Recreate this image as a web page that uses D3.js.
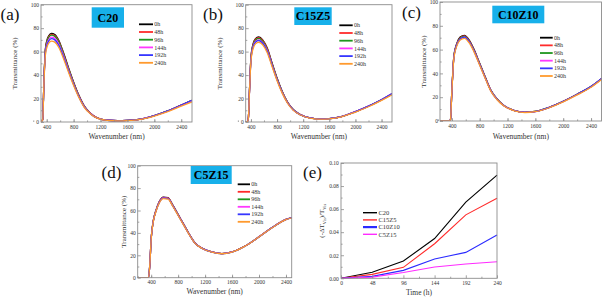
<!DOCTYPE html>
<html>
<head>
<meta charset="utf-8">
<script src="https://cdn.jsdelivr.net/npm/d3@7"></script>
<style>
  body { margin: 0; background: #fff; }
  svg { display: block; font-family: "Liberation Serif", "Times New Roman", serif; }
</style>
</head>
<body>
<div id="chart"></div>
<script>
// ---- data ----
const WAVELENGTH = [200, 300, 340, 360, 380, 400, 430, 470, 520, 580, 650, 720, 800, 880, 960, 1050, 1150, 1300, 1450, 1600, 1800, 2000, 2200, 2400, 2560];

const AGE_LABELS = ['0h', '48h', '96h', '144h', '192h', '240h'];

// (a) C20
const C20_0h   = [0, 0, 2, 38, 62, 69, 73.5, 75.5, 74.5, 69.5, 59, 47, 34, 22.5, 13.5, 7.5, 3.5, 1.5, 1.1, 1.3, 2.5, 5.5, 9.5, 14.5, 18.5];
const C20_48h  = [0, 0, 2, 37.6, 61.4, 68.3, 72.8, 74.7, 73.8, 68.8, 58.4, 46.5, 33.7, 22.3, 13.4, 7.4, 3.5, 1.5, 1.1, 1.3, 2.5, 5.5, 9.4, 14.4, 18.4];
const C20_96h  = [0, 0, 2, 37.2, 60.8, 67.6, 72, 74, 73, 68.1, 57.8, 46.1, 33.3, 22, 13.2, 7.3, 3.4, 1.5, 1.1, 1.3, 2.5, 5.4, 9.4, 14.3, 18.2];
const C20_144h = [0, 0, 1.9, 36.4, 59.3, 66, 70.3, 72.3, 71.3, 66.5, 56.5, 45, 32.5, 21.5, 12.9, 7.2, 3.4, 1.5, 1.1, 1.3, 2.5, 5.4, 9.3, 14.2, 18];
const C20_192h = [0, 0, 1.9, 35.7, 58.3, 64.9, 69.1, 71, 70, 65.3, 55.5, 44.2, 32, 21.2, 12.7, 7.1, 3.3, 1.5, 1.1, 1.3, 2.5, 5.5, 9.5, 14.5, 18.4];
const C20_240h = [0, 0, 1.8, 34.7, 56.7, 63.1, 67.2, 69, 68.1, 63.5, 53.9, 43, 31.1, 20.6, 12.3, 6.9, 3.3, 1.4, 1, 1.2, 2.3, 5.1, 8.8, 13.5, 17.2];

// (b) C15Z5
const C15Z5_0h   = [0, 0, 0, 3, 30, 55, 66, 71, 72.5, 70, 63, 51, 37.5, 26, 17, 10.5, 6.5, 3.5, 2.6, 2.8, 4.8, 8.8, 13.5, 19, 24];
const C15Z5_48h  = [0, 0, 0, 3, 29.8, 54.6, 65.5, 70.5, 72, 69.5, 62.6, 50.6, 37.2, 25.8, 16.9, 10.4, 6.5, 3.5, 2.6, 2.8, 4.8, 8.7, 13.4, 18.9, 23.8];
const C15Z5_96h  = [0, 0, 0, 2.9, 29.5, 54, 64.9, 69.8, 71.3, 68.8, 61.9, 50.1, 36.9, 25.6, 16.8, 10.4, 6.4, 3.5, 2.6, 2.8, 4.8, 8.7, 13.4, 18.8, 23.7];
const C15Z5_144h = [0, 0, 0, 2.9, 29, 53.1, 63.8, 68.6, 70, 67.6, 60.9, 49.3, 36.2, 25.1, 16.5, 10.2, 6.4, 3.5, 2.6, 2.8, 4.8, 8.8, 13.5, 19, 24];
const C15Z5_192h = [0, 0, 0, 2.9, 28.8, 52.7, 63.3, 68.1, 69.5, 67.1, 60.4, 48.9, 36, 25, 16.4, 10.2, 6.3, 3.5, 2.6, 2.8, 4.8, 8.9, 13.6, 19.2, 24.3];
const C15Z5_240h = [0, 0, 0, 2.8, 28.1, 51.6, 61.9, 66.6, 68, 65.7, 59.1, 47.8, 35.2, 24.4, 16, 9.9, 6.2, 3.4, 2.5, 2.7, 4.6, 8.5, 13, 18.4, 23.2];

// (c) C10Z10
const C10Z10_0h   = [0, 0, 0, 0, 1, 25, 55, 65, 70.5, 72, 68, 60, 48.5, 37, 26, 18.5, 13, 8.8, 7.3, 8, 11.5, 16.5, 22.5, 29, 36];
const C10Z10_48h  = [0, 0, 0, 0, 1, 24.8, 54.6, 64.5, 70, 71.5, 67.5, 59.6, 48.2, 36.8, 25.9, 18.4, 12.9, 8.8, 7.3, 8, 11.5, 16.5, 22.4, 28.9, 35.9];
const C10Z10_96h  = [0, 0, 0, 0, 1, 24.6, 54.2, 64.1, 69.5, 71, 67, 59.2, 47.8, 36.5, 25.7, 18.3, 12.9, 8.8, 7.3, 8, 11.5, 16.4, 22.4, 28.9, 35.8];
const C10Z10_144h = [0, 0, 0, 0, 1, 24.5, 53.8, 63.6, 69, 70.5, 66.6, 58.7, 47.5, 36.2, 25.5, 18.2, 12.8, 8.7, 7.2, 7.9, 11.4, 16.4, 22.3, 28.8, 35.8];
const C10Z10_192h = [0, 0, 0, 0, 1, 24.5, 53.8, 63.6, 69, 70.5, 66.6, 58.7, 47.5, 36.2, 25.5, 18.2, 12.8, 8.7, 7.2, 7.9, 11.5, 16.5, 22.5, 29.1, 36.2];
const C10Z10_240h = [0, 0, 0, 0, 1, 24.1, 53.1, 62.7, 68, 69.5, 65.6, 57.9, 46.8, 35.7, 25.1, 17.9, 12.6, 8.6, 7.1, 7.8, 11.2, 16.1, 21.9, 28.4, 35.3];

// (d) C5Z15
const C5Z15_0h   = [0, 0, 0, 0, 12, 35, 50.5, 60, 68, 72, 71.5, 65, 56.5, 48, 39.5, 31, 26.5, 23, 21.5, 23, 28.5, 36.5, 45, 52, 54.5];
const C5Z15_48h  = [0, 0, 0, 0, 12, 34.8, 50.2, 59.7, 67.7, 71.6, 71.2, 64.7, 56.3, 47.8, 39.4, 31, 26.5, 23, 21.5, 23, 28.5, 36.5, 45, 52, 54.5];
const C5Z15_96h  = [0, 0, 0, 0, 11.9, 34.7, 50, 59.4, 67.3, 71.3, 70.8, 64.4, 56, 47.6, 39.2, 30.9, 26.4, 23, 21.5, 23, 28.5, 36.5, 45, 52, 54.5];
const C5Z15_144h = [0, 0, 0, 0, 11.9, 34.7, 50, 59.4, 67.3, 71.3, 70.8, 64.4, 56, 47.6, 39.2, 30.9, 26.4, 23, 21.5, 23, 28.5, 36.5, 45, 52, 54.5];
const C5Z15_192h = [0, 0, 0, 0, 11.9, 34.6, 49.8, 59.2, 67, 71, 70.5, 64.1, 55.8, 47.5, 39.1, 30.8, 26.4, 22.9, 21.4, 22.9, 28.4, 36.4, 44.9, 51.9, 54.4];
const C5Z15_240h = [0, 0, 0, 0, 11.8, 34.4, 49.6, 58.9, 66.7, 70.6, 70.1, 63.8, 55.5, 47.2, 38.9, 30.7, 26.3, 22.9, 21.4, 22.9, 28.4, 36.4, 44.8, 51.8, 54.3];

// (e) relative drop of visible transmittance
const TIME_H = [0, 48, 96, 144, 192, 240];
const SAMPLE_NAMES = ['C20', 'C15Z5', 'C10Z10', 'C5Z15'];
const DT_C20    = [0, 0.0052, 0.015, 0.0345, 0.066, 0.0895];
const DT_C15Z5  = [0, 0.0034, 0.0095, 0.030, 0.055, 0.0695];
const DT_C10Z10 = [0, 0.0017, 0.0069, 0.0167, 0.0225, 0.0376];
const DT_C5Z15  = [0, 0.001, 0.005, 0.0098, 0.0124, 0.0144];

const T_TICKS = [0, 20, 40, 60, 80, 100];
const WL_TICKS = [400, 800, 1200, 1600, 2000, 2400];
const DT_TICKS = [0, 0.02, 0.04, 0.06, 0.08, 0.10];

// ---- styling ----
const AGE_COLORS = ['#000000', '#ff2b2b', '#1e961e', '#ff38ff', '#3636ff', '#ff9a2e'];
const SAMPLE_COLORS = ['#000000', '#ff2b2b', '#2b2bff', '#ff2bff'];
const FRAME = '#8c8c8c';
const TXT = '#333333';
const BADGE = '#17b0ea';
const SERIF = '"Liberation Serif", "Times New Roman", serif';

const W = 602, H = 298;
const svg = d3.select('#chart').append('svg').attr('width', W).attr('height', H);
svg.append('rect').attr('width', W).attr('height', H).attr('fill', '#fff');

const spectra = [
    { id: 'a', title: 'C20', series: [C20_0h, C20_48h, C20_96h, C20_144h, C20_192h, C20_240h],
      box: [41, 192, 4.7, 122], xDomain: [315, 2560], ylab: 15, xlab: 139, letter: [0.5, 19.5],
      badge: [91.7, 7.3, 32.3, 20.4], legend: [139, 153, 24.3, 7.7] },
    { id: 'b', title: 'C15Z5', series: [C15Z5_0h, C15Z5_48h, C15Z5_96h, C15Z5_144h, C15Z5_192h, C15Z5_240h],
      box: [245.7, 392, 4.7, 122], xDomain: [320, 2560], ylab: 220, xlab: 139, letter: [203, 19.5],
      badge: [294.3, 7.3, 37.4, 17.7], legend: [339.3, 352.7, 25.3, 7.7] },
    { id: 'c', title: 'C10Z10', series: [C10Z10_0h, C10Z10_48h, C10Z10_96h, C10Z10_144h, C10Z10_192h, C10Z10_240h],
      box: [440, 601.5, 2, 121], xDomain: [230, 2550], ylab: 423.5, xlab: 138.5, letter: [402, 17.5],
      badge: [492.3, 5.7, 52, 17.6], legend: [540, 552.7, 37.7, 7.66] },
    { id: 'd', title: 'C5Z15', series: [C5Z15_0h, C5Z15_48h, C5Z15_96h, C5Z15_144h, C5Z15_192h, C5Z15_240h],
      box: [137.7, 291.7, 165.7, 277.7], xDomain: [200, 2485], ylab: 123.3, xlab: 294, letter: [101.5, 177.5],
      badge: [190.7, 166, 41, 18], legend: [237.7, 250, 184.3, 7.5] },
];

function frame(g, x0, x1, y0, y1) {
    g.append('rect').attr('x', x0).attr('y', y0).attr('width', x1 - x0).attr('height', y1 - y0)
        .attr('fill', 'none').attr('stroke', FRAME).attr('stroke-width', 0.9);
}

function styleAxis(sel) {
    sel.attr('font-family', SERIF).attr('font-size', null);
    sel.select('.domain').remove();
    sel.selectAll('.tick line').attr('stroke', FRAME).attr('stroke-width', 0.8);
    sel.selectAll('.tick text').attr('fill', TXT).style('font-size', '5.5px');
}

function drawAxes(g, x, y, y0, y1, x0, xTicks, xMinor, yTicks, yMinor, xFmt, yFmt, padX, padY) {
    g.append('g').attr('transform', `translate(0,${y1})`)
        .call(d3.axisBottom(x).tickValues(xMinor).tickSize(-1.6).tickFormat('')).call(styleAxis);
    g.append('g').attr('transform', `translate(0,${y1})`)
        .call(d3.axisBottom(x).tickValues(xTicks).tickSize(-3).tickPadding(padX).tickFormat(xFmt)).call(styleAxis);
    g.append('g').attr('transform', `translate(${x0},0)`)
        .call(d3.axisLeft(y).tickValues(yMinor).tickSize(-1.6).tickFormat('')).call(styleAxis);
    g.append('g').attr('transform', `translate(${x0},0)`)
        .call(d3.axisLeft(y).tickValues(yTicks).tickSize(-3).tickPadding(padY).tickFormat(yFmt)).call(styleAxis);
}

spectra.forEach(p => {
    const [x0, x1, y0, y1] = p.box;
    const g = svg.append('g').attr('class', 'panel-' + p.id);
    const x = d3.scaleLinear().domain(p.xDomain).range([x0, x1]);
    const y = d3.scaleLinear().domain([0, 100]).range([y1, y0]);

    g.append('clipPath').attr('id', 'clip-' + p.id)
        .append('rect').attr('x', x0).attr('y', y0 - 2).attr('width', x1 - x0).attr('height', y1 - y0 + 2);

    const line = d3.line()
        .x((d, i) => x(WAVELENGTH[i]))
        .y(d => y(d))
        .curve(d3.curveMonotoneX);

    g.append('g').attr('clip-path', `url(#clip-${p.id})`)
        .selectAll('path').data(p.series).join('path')
        .attr('d', line)
        .attr('fill', 'none')
        .attr('stroke', (d, i) => AGE_COLORS[i])
        .attr('stroke-width', 1.3)
        .attr('stroke-linejoin', 'round');

    frame(g, x0, x1, y0, y1);
    drawAxes(g, x, y, y0, y1, x0, WL_TICKS, d3.range(200, 2600, 200), T_TICKS, d3.range(10, 100, 20),
        d3.format('d'), d3.format('d'), 2.6, 2);

    g.append('text').attr('transform', `translate(${p.ylab},${(y0 + y1) / 2}) rotate(-90)`)
        .attr('text-anchor', 'middle').attr('dy', '0.35em').attr('fill', TXT)
        .style('font-size', '7px').text('Transmittance (%)');
    g.append('text').attr('x', (x0 + x1) / 2).attr('y', p.xlab)
        .attr('text-anchor', 'middle').attr('fill', TXT)
        .style('font-size', '7.5px').text('Wavenumber (nm)');

    g.append('text').attr('x', p.letter[0]).attr('y', p.letter[1])
        .attr('fill', '#111').style('font-size', '17px').text(`(${p.id})`);

    const [bx, by, bw, bh] = p.badge;
    g.append('rect').attr('x', bx).attr('y', by).attr('width', bw).attr('height', bh).attr('fill', BADGE);
    g.append('text').attr('x', bx + bw / 2).attr('y', by + bh / 2).attr('dy', '0.36em')
        .attr('text-anchor', 'middle').attr('fill', '#000').attr('font-weight', 'bold')
        .style('font-size', '12px').text(p.title);

    const [lx0, lx1, ly, ldy] = p.legend;
    const leg = g.append('g');
    AGE_LABELS.forEach((lab, i) => {
        leg.append('line').attr('x1', lx0).attr('x2', lx1).attr('y1', ly + i * ldy).attr('y2', ly + i * ldy)
            .attr('stroke', AGE_COLORS[i]).attr('stroke-width', 1.8);
        leg.append('text').attr('x', lx1 + 1.3).attr('y', ly + i * ldy).attr('dy', '0.35em')
            .attr('fill', TXT).style('font-size', '6px').text(lab);
    });
});

// ---- panel (e) ----
{
    const x0 = 341, x1 = 497, y0 = 163, y1 = 278.3;
    const g = svg.append('g').attr('class', 'panel-e');
    const x = d3.scaleLinear().domain([0, 240]).range([x0, x1]);
    const y = d3.scaleLinear().domain([0, 0.10]).range([y1, y0]);
    const rows = [DT_C20, DT_C15Z5, DT_C10Z10, DT_C5Z15];

    const line = d3.line().x((d, i) => x(TIME_H[i])).y(d => y(d));
    g.selectAll('path.dt').data(rows).join('path')
        .attr('class', 'dt')
        .attr('d', line)
        .attr('fill', 'none')
        .attr('stroke', (d, i) => SAMPLE_COLORS[i])
        .attr('stroke-width', 1.1);

    frame(g, x0, x1, y0, y1);
    drawAxes(g, x, y, y0, y1, x0, TIME_H, d3.range(24, 240, 48), DT_TICKS, d3.range(0.01, 0.1, 0.02),
        d3.format('d'), d3.format('.2f'), 2.8, 2.2);

    g.append('text').attr('x', (x0 + x1) / 2).attr('y', 295)
        .attr('text-anchor', 'middle').attr('fill', TXT).style('font-size', '7.5px').text('Time (h)');

    const yl = g.append('text').attr('transform', `translate(322,${(y0 + y1) / 2}) rotate(-90)`)
        .attr('text-anchor', 'middle').attr('dy', '0.35em').attr('fill', TXT).style('font-size', '7px');
    yl.append('tspan').text('(-\u0394T');
    yl.append('tspan').attr('dy', '1.5').style('font-size', '4.5px').text('Vis');
    yl.append('tspan').attr('dy', '-1.5').text(')/T');
    yl.append('tspan').attr('dy', '1.5').style('font-size', '4.5px').text('Vis');

    g.append('text').attr('x', 303).attr('y', 177.5).attr('fill', '#111').style('font-size', '17px').text('(e)');

    SAMPLE_NAMES.forEach((name, i) => {
        const ly = 212.7 + i * 7.2;
        g.append('line').attr('x1', 363).attr('x2', 377).attr('y1', ly).attr('y2', ly)
            .attr('stroke', SAMPLE_COLORS[i]).attr('stroke-width', i === 2 ? 2.2 : 1.4);
        g.append('text').attr('x', 378.5).attr('y', ly).attr('dy', '0.35em')
            .attr('fill', TXT).style('font-size', '6.5px').text(name);
    });
}
</script>
</body>
</html>
